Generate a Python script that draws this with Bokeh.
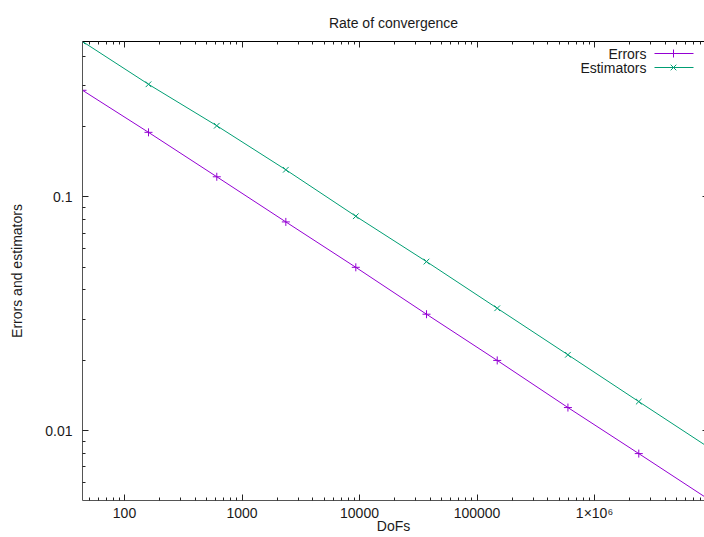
import math
from bokeh.plotting import figure
from bokeh.models import LogAxis, FixedTicker, Range1d
from bokeh.embed import file_html
from bokeh.resources import INLINE
from bokeh.core.properties import value

# ---- data ----
dofs = [43.9, 160, 610, 2360, 9300, 37150, 148600, 594000, 2380000, 9500000]
errors = [0.286, 0.189, 0.122, 0.0782, 0.0500, 0.0315, 0.01998, 0.01256, 0.00798, 0.00506]
estimators = [0.4625, 0.3034, 0.2017, 0.1307, 0.0827, 0.0529, 0.0334, 0.02112, 0.01332, 0.00844]

series_names = ["Errors", "Estimators"]
x_major = [100, 1000, 10000, 100000, 1000000]
x_labels = ["100", "1000", "10000", "100000", "1×10⁶"]
y_major = [0.01, 0.1]
y_labels = ["0.01", "0.1"]
x_limits = [43.9, 8.63e6]
y_limits = [0.005027, 0.4625]

# ---- styling ----
FONT = "Liberation Sans"
C_ERR = "#9400d3"
C_EST = "#009e73"
TEXT_C = "#1a1a1a"

def log_minors(lo, hi):
    out = []
    d = 10 ** math.floor(math.log10(lo))
    while d <= hi:
        for k in range(2, 10):
            v = k * d
            if lo <= v <= hi:
                out.append(v)
        d *= 10
    return out

x_minor = log_minors(10, 1e7)
y_minor = log_minors(0.001, 1.0)

FL, FR, FT, FB = 82, 704, 41, 500

p = figure(width=704, height=537, x_axis_type="log", y_axis_type="log",
           x_range=Range1d(*x_limits), y_range=Range1d(*y_limits),
           output_backend="svg", toolbar_location=None,
           min_border_left=FL, min_border_right=0, min_border_top=FT,
           min_border_bottom=537 - FB)
p.xgrid.visible = False
p.ygrid.visible = False
p.outline_line_color = None
p.background_fill_color = "white"
p.border_fill_color = "white"

p.title.text = "Rate of convergence"
p.title.align = "center"
p.title.vertical_align = "top"
p.title.text_font = FONT
p.title.text_font_size = "14px"
p.title.text_font_style = "normal"
p.title.text_color = TEXT_C
p.title.standoff = 18

def style_axis(ax, ticker, labels=None, majors=None, line_color="#555555", tick_in=6):
    ax.ticker = ticker
    ax.major_tick_in = tick_in
    ax.major_tick_out = 0
    ax.minor_tick_in = 3 if tick_in > 2 else 0
    ax.minor_tick_out = 0
    ax.axis_line_color = line_color
    ax.major_tick_line_color = "#222222"
    ax.minor_tick_line_color = "#222222"
    if labels is None:
        ax.major_label_text_font_size = "1px"
        ax.major_label_text_alpha = 0
        ax.major_label_standoff = 0
    else:
        ax.major_label_overrides = {m: l for m, l in zip(majors, labels)}
        ax.major_label_text_font = FONT
        ax.major_label_text_font_size = "14px"
        ax.major_label_text_color = TEXT_C

bx = p.xaxis[0]
style_axis(bx, FixedTicker(ticks=x_major, minor_ticks=x_minor), x_labels, x_major)
bx.major_label_standoff = 4
bx.axis_label = "DoFs"
bx.axis_label_standoff = -6
bx.axis_label_text_font = FONT
bx.axis_label_text_font_size = "14px"
bx.axis_label_text_font_style = "normal"
bx.axis_label_text_color = TEXT_C

ly = p.yaxis[0]
style_axis(ly, FixedTicker(ticks=y_major, minor_ticks=y_minor), y_labels, y_major)
ly.major_label_standoff = 10
ly.axis_label = "Errors and estimators"
ly.axis_label_standoff = 17
ly.axis_label_text_font = FONT
ly.axis_label_text_font_size = "14px"
ly.axis_label_text_font_style = "normal"
ly.axis_label_text_color = TEXT_C

top = LogAxis()
style_axis(top, FixedTicker(ticks=x_major, minor_ticks=x_minor), line_color="#000000")
p.add_layout(top, "above")

right = LogAxis()
style_axis(right, FixedTicker(ticks=y_major, minor_ticks=y_minor), line_color="#ffffff", tick_in=2)
right.axis_line_alpha = 0
p.add_layout(right, "right")

# ---- series ----
p.line(dofs, errors, line_color=C_ERR, line_width=1)
p.scatter(dofs, errors, marker="cross", size=8, line_color=C_ERR, line_width=1)
p.line(dofs, estimators, line_color=C_EST, line_width=1)
p.scatter(dofs, estimators, marker="x", size=8, line_color=C_EST, line_width=1)

# ---- legend (gnuplot style: text left of sample) ----
lx0, lx1 = math.log10(x_limits[0]), math.log10(x_limits[1])
ly0, ly1 = math.log10(y_limits[0]), math.log10(y_limits[1])

def x_at(px):
    return 10 ** (lx0 + (px - FL) / (FR - FL) * (lx1 - lx0))

def y_at(py):
    return 10 ** (ly1 - (py - FT) / (FB - FT) * (ly1 - ly0))

for name, col, mk, py in [(series_names[0], C_ERR, "cross", 53), (series_names[1], C_EST, "x", 67)]:
    p.text(x=[x_at(646)], y=[y_at(py)], text=[name], text_align="right",
           text_baseline="middle", text_font=value(FONT), text_font_size="14px",
           text_color=TEXT_C)
    p.line([x_at(654), x_at(693)], [y_at(py), y_at(py)], line_color=col, line_width=1)
    p.scatter([x_at(673)], [y_at(py)], marker=mk, size=8, line_color=col, line_width=1)

open("out.html", "w").write(file_html(p, INLINE))
